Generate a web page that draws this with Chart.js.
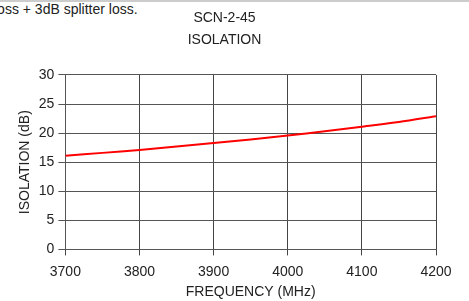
<!DOCTYPE html><html lang="en"><head><meta charset="utf-8"/>
<title>SCN-2-45 Isolation</title>
<script src="https://cdn.jsdelivr.net/npm/chart.js@4.4.1/dist/chart.umd.min.js"></script>
<style>
  *{box-sizing:border-box;font-family:"Liberation Sans",Arial,sans-serif}
  body{margin:0;background:#fff;width:469px;height:301px;overflow:hidden;position:relative}
  .top{position:absolute;left:0;top:0;width:475px;border-top:2px solid #ccc;font-size:14px;color:#222;line-height:14px;margin-left:-6px}
  .wrap{position:absolute;left:0;top:0;width:469px;height:301px}
</style></head><body>
<div class="top">loss + 3dB splitter loss.</div>
<div class="wrap"><canvas id="c" width="469" height="301"></canvas></div>
<script>
// frequency (MHz) vs isolation (dB)
const freq = [3700, 3750, 3800, 3850, 3900, 3950, 4000, 4050, 4100, 4150, 4200];
const isolation = [16.1, 16.6, 17.1, 17.7, 18.3, 18.9, 19.6, 20.3, 21.1, 21.9, 22.9];
const yTicks = [0, 5, 10, 15, 20, 25, 30];
const xTicks = [3700, 3800, 3900, 4000, 4100, 4200];

const ink = '#222';
const font = {family: '"Liberation Sans", Arial, sans-serif', size: 14};

new Chart(document.getElementById('c'), {
  type: 'line',
  data: {datasets: [{
    data: freq.map((f, i) => ({x: f, y: isolation[i]})),
    borderColor: '#ff0000', borderWidth: 2, pointRadius: 0, tension: 0.3, fill: false
  }]},
  options: {
    responsive: false, animation: false,
    layout: {padding: {left: 13, right: 33, top: 7, bottom: -4}},
    plugins: {
      legend: {display: false}, tooltip: {enabled: false},
      title: {display: true, text: ['SCN-2-45', 'ISOLATION'], color: ink, font: {...font, weight: 'normal', lineHeight: 1.57},
        padding: {top: 0, bottom: 24}}
    },
    scales: {
      x: {type: 'linear', min: 3700, max: 4200,
        afterBuildTicks: ax => { ax.ticks = xTicks.map(v => ({value: v})); },
        ticks: {color: ink, font, padding: 8, maxRotation: 0, callback: v => String(v)},
        grid: {color: '#444', lineWidth: 1, tickLength: 6},
        border: {color: '#555', width: 1},
        title: {display: true, text: 'FREQUENCY (MHz)', color: ink, font, padding: {top: -4}}
      },
      y: {min: 0, max: 30,
        afterBuildTicks: ax => { ax.ticks = yTicks.map(v => ({value: v})); },
        ticks: {color: ink, font, padding: 4, callback: v => String(v)},
        grid: {color: '#555', lineWidth: 1, tickLength: 7},
        border: {color: '#555', width: 1},
        title: {display: true, text: 'ISOLATION (dB)', color: ink, font, padding: {bottom: 1}}
      }
    }
  }
});
</script></body></html>
